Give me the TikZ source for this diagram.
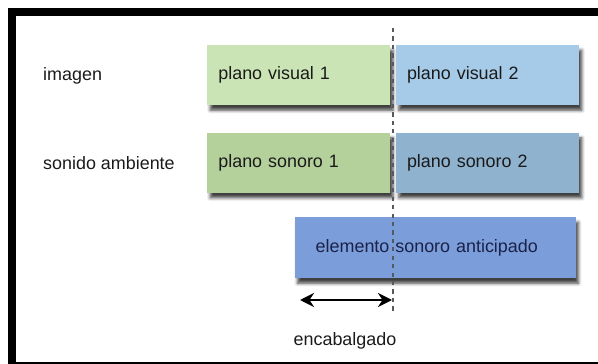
\documentclass[tikz,border=0pt]{standalone}
\usepackage{fontspec}
\setmainfont{Liberation Sans}
\usetikzlibrary{positioning, arrows.meta, shadows.blur}
\definecolor{ink}     {HTML}{1A1A1A}
\definecolor{navy}    {HTML}{1B2148}
\definecolor{visOne}  {HTML}{CBE4B5}
\definecolor{sonOne}  {HTML}{B4D09B}
\definecolor{visTwo}  {HTML}{A6CBE8}
\definecolor{sonTwo}  {HTML}{8FB2CF}
\definecolor{anticip} {HTML}{7B9EDB}
\definecolor{cutline} {HTML}{555A60}

\begin{document}
\begin{tikzpicture}[x=0.02cm, y=-0.02cm,
      node distance=0.1cm and 0.1cm,
      font=\fontsize{10.2}{12}\selectfont, text=ink,
      plano/.style={inner xsep=0.22cm, inner ysep=0pt,
                    text width=3.22cm, align=left,
                    minimum height=1.2cm,
                    blur shadow={shadow xshift=1.6pt, shadow yshift=-2.8pt,
                                 shadow blur radius=1.8pt, shadow opacity=75}},
      track/.style={anchor=west},
      arr/.style={{Stealth[length=2.8mm, width=2.8mm]}-{Stealth[length=2.8mm, width=2.8mm]},
                  line width=1.6pt, draw=black}]

    \useasboundingbox (0,0) rectangle (598,364);
    \begin{scope}
      \clip (0,0) rectangle (598,364);
      \draw[line width=0.16cm] (12,12) rectangle (640,365.5);
    \end{scope}

    % tracks
    \node[track] (img) at (37,76)  {imagen};
    \node[track] (amb) at (37,163) {sonido ambiente};

    \node[plano, fill=visOne, anchor=north west] (vis1) at (207,45) {plano visual 1};
    \node[plano, fill=visTwo, right=of vis1] (vis2) {plano visual 2};
    \node[plano, fill=sonOne, below=0.54cm of vis1] (son1) {plano sonoro 1};
    \node[plano, fill=sonTwo, right=of son1] (son2) {plano sonoro 2};
    \node[plano, fill=anticip, text=navy, inner xsep=0.42cm, text width=4.78cm,
          minimum height=1.22cm, anchor=north east]
          (elem) at (576,217) {elemento sonoro anticipado};

    % cut
    \coordinate (cut top) at (393,28);
    \coordinate (cut bot) at (393,312);
    \draw[cutline, line width=1.1pt, dash pattern=on 2.4pt off 2.4pt] (cut top) -- (cut bot);

    \coordinate (enc l) at (300,300);
    \coordinate (enc r) at (392,300);
    \draw[arr] (enc l) -- (enc r);
    \node (enc) at (345,341) {encabalgado};
  \end{tikzpicture}
\end{document}
